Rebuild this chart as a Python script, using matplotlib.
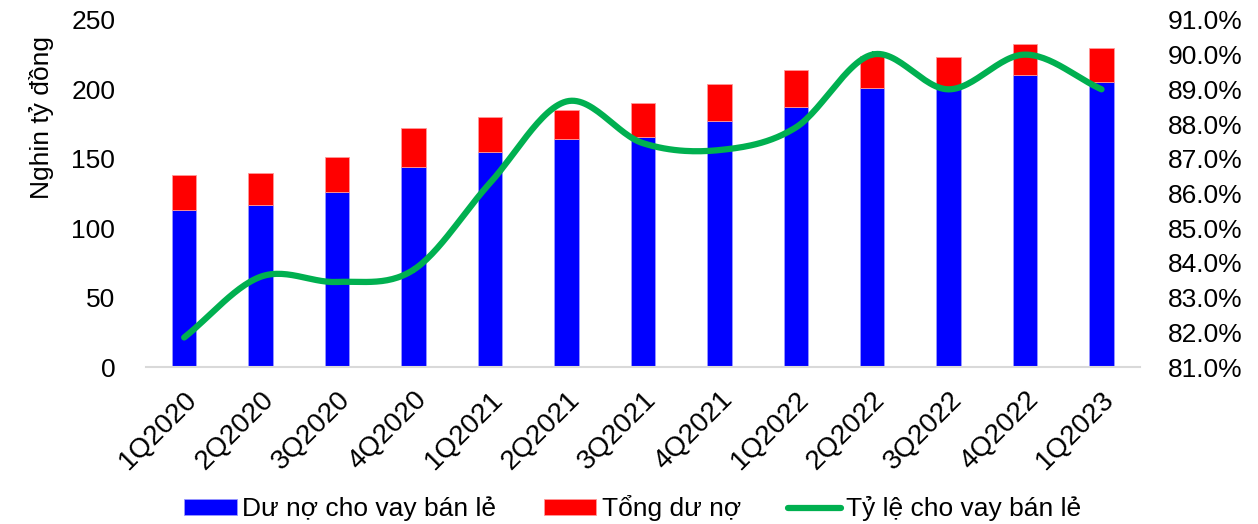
import matplotlib.pyplot as plt
import numpy as np

plt.rcParams['font.family'] = ['Liberation Sans', 'DejaVu Sans']

quarters = ['1Q2020', '2Q2020', '3Q2020', '4Q2020', '1Q2021', '2Q2021', '3Q2021',
            '4Q2021', '1Q2022', '2Q2022', '3Q2022', '4Q2022', '1Q2023']
retail = [113, 117, 126, 144, 155, 164, 166, 177, 187, 201, 200, 210, 205]
total = [138, 140, 151, 172, 180, 185, 190, 203.5, 214, 224, 223, 233, 230]
ratio = [81.85, 83.6, 83.45, 83.8, 86.3, 88.65, 87.45, 87.25, 87.9, 90.0, 89.0, 90.0, 89.0]


def catmull_rom(x, y, n=30):
    # smoothed line through the data points (like Excel's smoothed line)
    x = np.asarray(x, float)
    y = np.asarray(y, float)
    px = np.concatenate([[2 * x[0] - x[1]], x, [2 * x[-1] - x[-2]]])
    py = np.concatenate([[2 * y[0] - y[1]], y, [2 * y[-1] - y[-2]]])
    xs, ys = [], []
    t = np.linspace(0, 1, n)
    for i in range(1, len(px) - 2):
        for p, out in ((px, xs), (py, ys)):
            p0, p1, p2, p3 = p[i - 1], p[i], p[i + 1], p[i + 2]
            out.extend(0.5 * ((2 * p1) + (-p0 + p2) * t
                              + (2 * p0 - 5 * p1 + 4 * p2 - p3) * t ** 2
                              + (-p0 + 3 * p1 - 3 * p2 + p3) * t ** 3))
    return np.array(xs), np.array(ys)


fig = plt.figure(figsize=(12.58, 5.24), dpi=100)
ax = fig.add_axes([0.116, 0.2996, 0.79, 0.6624])
x = np.arange(len(quarters))
w = 0.32

b1 = ax.bar(x, retail, w, color='#0000FF', edgecolor='#9999ff', linewidth=0.6,
            label='Dư nợ cho vay bán lẻ')
b2 = ax.bar(x, np.array(total) - np.array(retail), w, bottom=retail, color='#FF0000',
            edgecolor='#ff9999', linewidth=0.6, label='Tổng dư nợ')

ax.set_xlim(-0.5, len(quarters) - 0.5)
ax.set_ylim(0, 250)
ax.set_yticks(range(0, 251, 50))
ax.set_xticks(x)
ax.set_xticklabels(quarters, rotation=45, ha='right', rotation_mode='anchor')
ax.tick_params(axis='both', length=0, colors='black')
ax.tick_params(axis='x', labelsize=20, pad=14)
ax.tick_params(axis='y', labelsize=19, pad=22)
for s in ['top', 'right', 'left']:
    ax.spines[s].set_visible(False)
ax.spines['bottom'].set_color('#d9d9d9')
ax.spines['bottom'].set_linewidth(1.5)
ax.set_ylabel('Nghin tỷ đồng', fontsize=19)
ax.yaxis.set_label_coords(-0.092, 0.72)

ax2 = ax.twinx()
sx, sy = catmull_rom(x, ratio)
ln, = ax2.plot(sx, sy, color='#00B050', lw=4.5, solid_capstyle='round',
               label='Tỷ lệ cho vay bán lẻ')
ax2.set_ylim(81, 91)
ax2.set_yticks(np.arange(81, 91.1, 1))
ax2.set_yticklabels([f'{v:.1f}%' for v in np.arange(81, 91.1, 1)])
ax2.tick_params(axis='y', length=0, labelsize=19, pad=20)
for s in ax2.spines.values():
    s.set_visible(False)

fig.legend(handles=[b1, b2, ln], loc='center', bbox_to_anchor=(0.503, 0.03), ncol=3,
           frameon=False, fontsize=19, handlelength=2.0, handleheight=0.55,
           columnspacing=1.8, handletextpad=0.2)

fig.savefig('out.png', dpi=100)
